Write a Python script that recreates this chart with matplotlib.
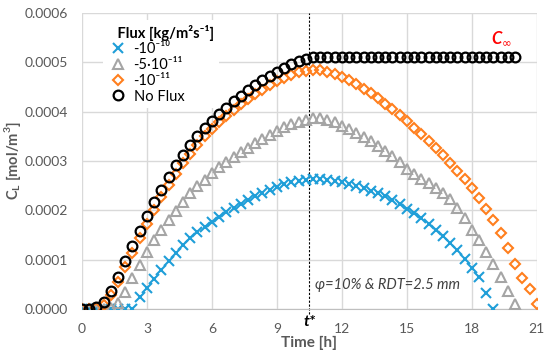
import numpy as np
import matplotlib
matplotlib.use("Agg")
import matplotlib.pyplot as plt
from matplotlib.lines import Line2D

plt.rcParams['font.family'] = ['Lato', 'DejaVu Sans']

# time step between samples [h]
step = 1.0 / 3.0

# concentration values in units of 1e-4 mol/m3, sampled every 20 min from t=0
no_flux = [0.00, 0.00, 0.03, 0.15, 0.37, 0.64, 0.97, 1.27, 1.58, 1.89,
           2.16, 2.42, 2.68, 2.91, 3.13, 3.33, 3.51, 3.67, 3.81, 3.95,
           4.08, 4.21, 4.32, 4.43, 4.53, 4.63, 4.72, 4.81, 4.89, 4.96,
           5.02, 5.07, 5.10, 5.10, 5.10, 5.10, 5.10, 5.10, 5.10, 5.10,
           5.10, 5.10, 5.10, 5.10, 5.10, 5.10, 5.10, 5.10, 5.10, 5.10,
           5.10, 5.10, 5.10, 5.10, 5.10, 5.10, 5.10, 5.10, 5.10, 5.10,
           5.10]
flux_1e11 = [0.00, 0.00, 0.01, 0.08, 0.28, 0.55, 0.85, 1.14, 1.44, 1.73,
             2.01, 2.27, 2.52, 2.74, 2.95, 3.15, 3.33, 3.50, 3.65, 3.79,
             3.92, 4.04, 4.15, 4.26, 4.35, 4.44, 4.53, 4.61, 4.68, 4.75,
             4.80, 4.83, 4.85, 4.84, 4.81, 4.76, 4.70, 4.63, 4.55, 4.46,
             4.37, 4.27, 4.16, 4.05, 3.93, 3.80, 3.67, 3.54, 3.40, 3.26,
             3.11, 2.96, 2.80, 2.63, 2.46, 2.24, 2.02, 1.80, 1.54, 1.24,
             0.92, 0.63, 0.40, 0.10]
flux_5e11 = [0.00, 0.00, 0.00, 0.00, 0.02, 0.12, 0.34, 0.62, 0.89, 1.16,
             1.39, 1.60, 1.80, 1.99, 2.17, 2.34, 2.49, 2.62, 2.75, 2.87,
             2.98, 3.08, 3.18, 3.27, 3.36, 3.45, 3.53, 3.61, 3.68, 3.74,
             3.79, 3.83, 3.86, 3.86, 3.83, 3.78, 3.71, 3.64, 3.57, 3.49,
             3.40, 3.30, 3.20, 3.09, 2.97, 2.84, 2.74, 2.63, 2.55, 2.45,
             2.36, 2.22, 2.05, 1.84, 1.61, 1.39, 1.16, 0.91, 0.65, 0.37,
             0.10]
flux_1e10 = [0.00, 0.00, 0.00, 0.00, 0.00, 0.00, 0.00, 0.00, 0.25, 0.42,
             0.61, 0.79, 0.97, 1.14, 1.29, 1.43, 1.55, 1.67, 1.77, 1.87,
             1.96, 2.05, 2.13, 2.21, 2.29, 2.36, 2.42, 2.48, 2.53, 2.57,
             2.60, 2.62, 2.63, 2.63, 2.62, 2.60, 2.57, 2.54, 2.50, 2.45,
             2.40, 2.34, 2.28, 2.20, 2.12, 2.03, 1.94, 1.84, 1.73, 1.61,
             1.48, 1.34, 1.19, 1.02, 0.84, 0.64, 0.33, 0.00]

t_star = 10.5
x_ticks = [0, 3, 6, 9, 12, 15, 18, 21]
y_ticks = [0.0, 0.0001, 0.0002, 0.0003, 0.0004, 0.0005, 0.0006]

blue = '#1F9ED8'
grey = '#A5A5A5'
orange = '#FF7F1E'
text_grey = '#595959'


def series(vals):
    v = np.array(vals) * 1e-4
    t = np.arange(len(v)) * step
    return t, v


fig = plt.figure(figsize=(5.5, 3.58), dpi=100)
ax = fig.add_axes([0.149, 0.137, 0.827, 0.827])

t, v = series(flux_1e10)
ax.plot(t, v, ls='none', marker='x', ms=7, mew=1.5, color=blue, zorder=3)
t, v = series(flux_5e11)
ax.plot(t, v, ls='none', marker='^', ms=7.5, mew=1.5, mfc='none', mec=grey, zorder=3)
t, v = series(flux_1e11)
ax.plot(t, v, ls='none', marker='D', ms=5.3, mew=1.5, mfc='none', mec=orange, zorder=3)
t, v = series(no_flux)
ax.plot(t, v, ls='none', marker='o', ms=7, mew=1.6, mfc='none', mec='black', zorder=3)

# t* marker line
ax.plot([t_star, t_star], [-0.00001, 0.0006], ls=(0, (2, 1.5)), lw=0.8,
        color='black', clip_on=False, zorder=2)

ax.set_xlim(0, 21)
ax.set_ylim(0, 0.0006)
ax.set_xticks(x_ticks)
ax.set_yticks(y_ticks)
ax.set_yticklabels(['%.4f' % y for y in y_ticks])
ax.grid(True, color='#D9D9D9', lw=1)
ax.set_axisbelow(True)
for s in ax.spines.values():
    s.set_visible(False)
ax.spines['bottom'].set_visible(True)
ax.spines['bottom'].set_color('#BFBFBF')
ax.tick_params(length=0, labelsize=10, labelcolor=text_grey)
ax.tick_params(axis='y', pad=10)
ax.tick_params(axis='x', pad=10)

ax.set_xlabel('Time [h]', fontsize=11, fontweight='bold', color=text_grey, labelpad=1)
ax.set_ylabel('C$_\\mathregular{L}$ [mol/m$^\\mathregular{3}$]', fontsize=10.5,
              fontweight='bold', color=text_grey)
ax.yaxis.set_label_coords(-0.13, 0.5)

ax.text(t_star, -0.000012, 't*', fontsize=11.5, fontweight='bold', style='italic',
        ha='center', va='top')
ax.text(10.75, 0.000049, '\u03c6=10% & RDT=2.5 mm', fontsize=10.5, style='italic',
        color='#404040', ha='left', va='center')
ax.text(19.35, 0.000548, 'C$_{\\infty}$', fontsize=12, fontweight='bold',
        style='italic', color='red', ha='center', va='center')

handles = [
    Line2D([], [], ls='none', marker='x', ms=6.5, mew=1.5, color=blue),
    Line2D([], [], ls='none', marker='^', ms=7, mew=1.5, mfc='none', mec=grey),
    Line2D([], [], ls='none', marker='D', ms=5, mew=1.5, mfc='none', mec=orange),
    Line2D([], [], ls='none', marker='o', ms=7, mew=1.6, mfc='none', mec='black'),
]
labels = ['-10\u207b\u00b9\u2070', '-5\u00b710\u207b\u00b9\u00b9',
          '-10\u207b\u00b9\u00b9', 'No Flux']
leg = ax.legend(handles, labels, loc='upper left', bbox_to_anchor=(0.03, 1.0),
                title='   Flux [kg/m\u00b2s\u207b\u00b9]', frameon=True, framealpha=1,
                edgecolor='none', fontsize=10.5, handletextpad=0.3,
                labelspacing=0.12, borderpad=0.3, handlelength=1.5)
leg.get_title().set_fontweight('bold')
leg.get_title().set_fontsize(10.5)
leg._legend_box.align = 'left'

fig.savefig('out.png', dpi=100)
